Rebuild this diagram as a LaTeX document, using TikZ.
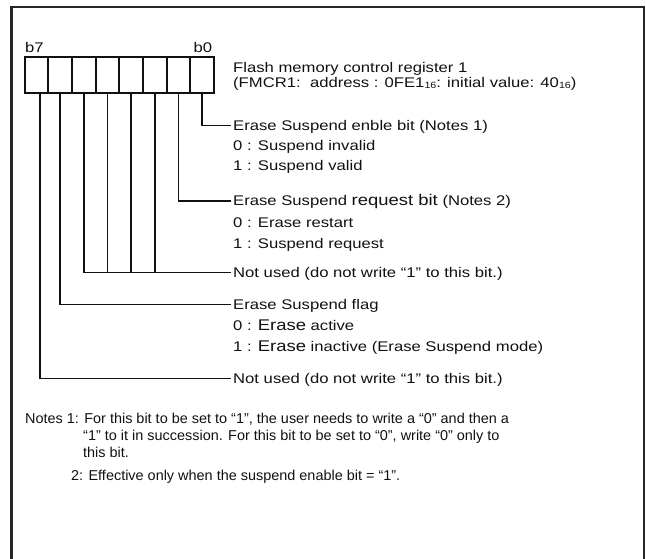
\documentclass[tikz,border=0pt]{standalone}
\usepackage{fontspec}
\usepackage{tikz}
\usetikzlibrary{positioning}
\newfontfamily\regfont{Liberation Sans}[FakeStretch=1.19]
\newfontfamily\notefont{Liberation Sans}[FakeStretch=1.01]
\definecolor{cInk}{HTML}{111111}
\definecolor{cFrame}{HTML}{262626}
\newcommand{\sixteen}{\raisebox{-1pt}{\fontsize{9}{9}\selectfont 16}}
\newcommand{\bigw}[1]{{\fontsize{15.5}{17}\selectfont #1}}
\tikzset{
  cell/.style={draw=cInk, line width=2pt, minimum width=23.7pt,
               minimum height=36pt, inner sep=0pt},
  txt/.style={anchor=base west, inner xsep=2pt, inner ysep=0pt,
              text height=10pt, text depth=0pt, text=cInk,
              font=\regfont\fontsize{14}{17}\selectfont},
  note/.style={txt, inner xsep=0pt, font=\notefont\fontsize{14.3}{17}\selectfont},
  lead/.style={cInk, line width=1.8pt}
}
\begin{document}
\begin{tikzpicture}[x=1pt, y=-1pt]
\useasboundingbox (0,0) rectangle (646,559);
% frame, open at the bottom
\draw[cFrame, line width=2.2pt] (11.5,570) -- (11.5,7) -- (644,7) -- (644,570);
% register cells
\foreach \i in {0,...,7}
  \node[cell] (c\i) at ({36.35+23.7*(7-\i)}, 75) {};
\node[txt, inner xsep=0pt] (lb7) at (25,53) {b7};
\node[txt, inner xsep=0pt] (lb0) at (193.5,53) {b0};
% register name
\node[txt] (reg) at (231,72.5) {Flash memory control register 1};
\node[txt] (regb) at (231,88) {(FMCR1:\ \ address : 0FE1\sixteen: initial value: 40\sixteen)};
% bit descriptions
\node[txt] (en) at (231,130.5) {Erase Suspend enble bit (Notes 1)};
\node[txt] (enA) at (231,151) {0 : Suspend invalid};
\node[txt] (enB) at (231,171) {1 : Suspend valid};
\node[txt] (req) at (231,206) {Erase Suspend \bigw{request bit} (Notes 2)};
\node[txt] (reqA) at (231,227.5) {0 : Erase restart};
\node[txt] (reqB) at (231,248.3) {1 : Suspend request};
\node[txt] (nuA) at (231,277.5) {Not used (do not write “1” to this bit.)};
\node[txt] (flag) at (231,309.5) {Erase Suspend flag};
\node[txt] (flagA) at (231,330.5) {0 : \bigw{Erase} active};
\node[txt] (flagB) at (231,351.5) {1 : \bigw{Erase} inactive (Erase Suspend mode)};
\node[txt] (nuB) at (231,383.5) {Not used (do not write “1” to this bit.)};
% leaders
\draw[lead] (c0.south) |- (en.west);
\draw[lead] (c1.south) |- (req.west);
\foreach \i in {2,...,5}
  \draw[lead] (c\i.south) |- (nuA.west);
\draw[lead] (c6.south) |- (flag.west);
\draw[lead] ([xshift=4pt]c7.south) |- (nuB.west);
% notes
\node[note] (n1) at (25,423) {Notes 1: For this bit to be set to “1”, the user needs to write a “0” and then a};
\node[note] (n1b) at (83,440.5) {“1” to it in succession. For this bit to be set to “0”, write “0” only to};
\node[note] (n1c) at (83,457.5) {this bit.};
\node[note] (n2) at (71,480) {2: Effective only when the suspend enable bit = “1”.};
\end{tikzpicture}
\end{document}
